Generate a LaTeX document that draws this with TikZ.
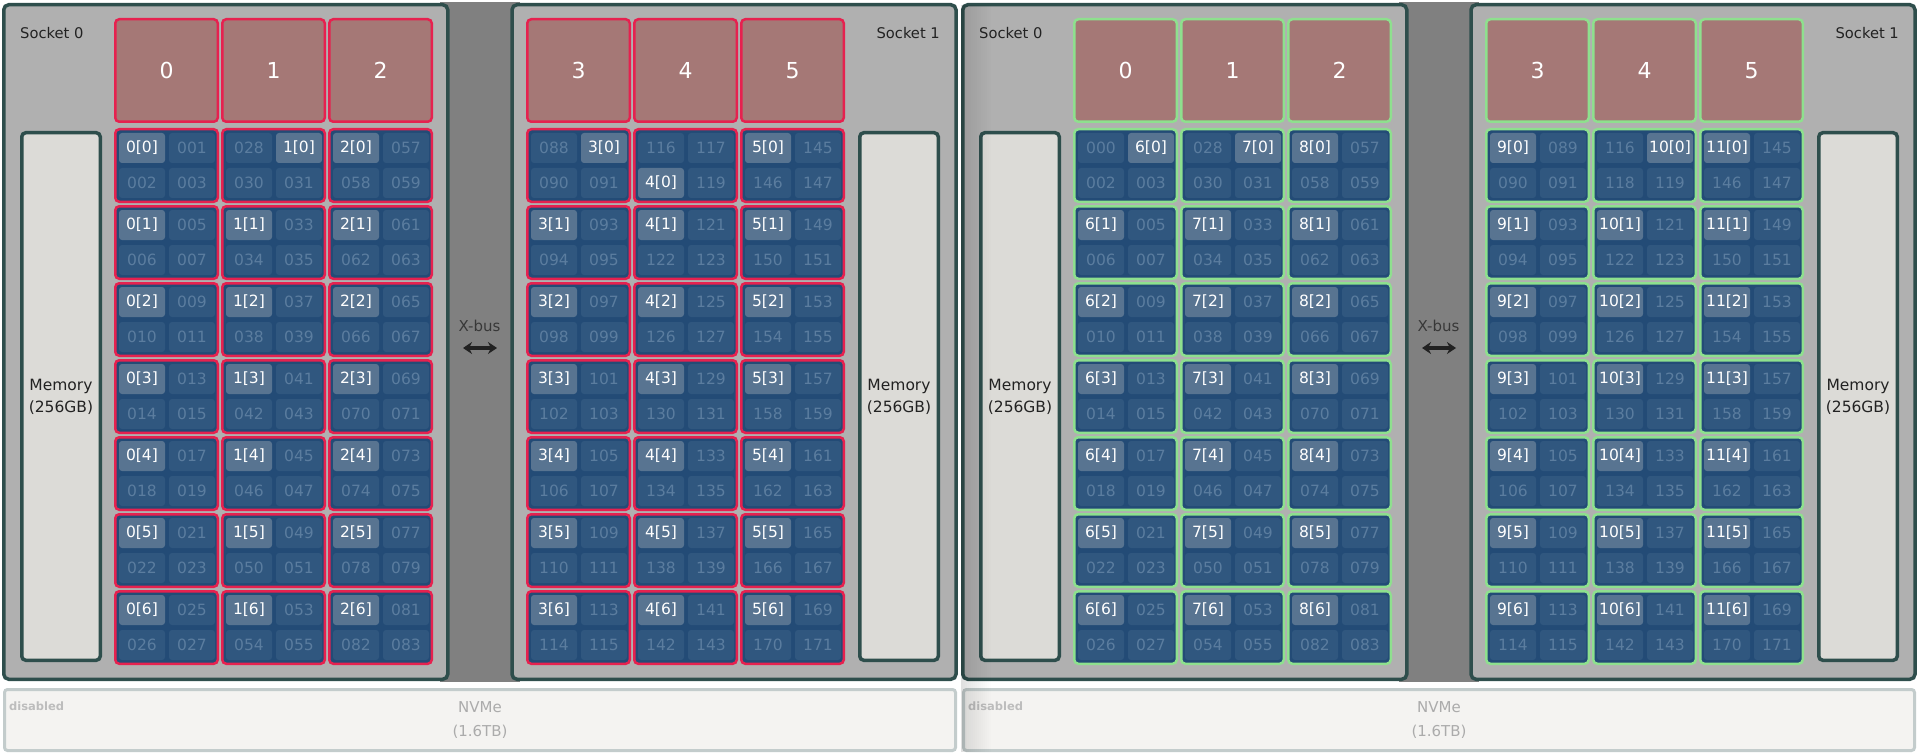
\documentclass[tikz,border=0pt]{standalone}
\usepackage{fontspec}
\setmainfont{DejaVu Sans}
\usetikzlibrary{arrows.meta}
\definecolor{panelgray}{HTML}{B0B0B0}
\definecolor{busgray}{HTML}{808080}
\definecolor{slate}{HTML}{2E4E4C}
\definecolor{corefill}{HTML}{A57876}
\definecolor{redb}{HTML}{E6214F}
\definecolor{greenb}{HTML}{8EE08E}
\definecolor{grpfill}{HTML}{234B76}
\definecolor{cellfill}{HTML}{30577F}
\definecolor{hifill}{HTML}{587491}
\definecolor{dimtext}{HTML}{5B7D9F}
\definecolor{memfill}{HTML}{DCDBD7}
\definecolor{nvfill}{HTML}{F4F3F1}
\definecolor{nvborder}{HTML}{C3CCCC}
\definecolor{nvtext}{HTML}{ABABAB}
\definecolor{distext}{HTML}{BDBDBD}
\definecolor{darktext}{HTML}{222222}
\newcommand\padnum[1]{\ifnum#1<10 00#1\else\ifnum#1<100 0#1\else#1\fi\fi}
\tikzset{
  socketbox/.style={draw=slate, line width=3.5pt, fill=panelgray, rounded corners=5pt,
    minimum width=444pt, minimum height=674.5pt, inner sep=0pt},
  membox/.style={draw=slate, line width=3.5pt, fill=memfill, rounded corners=4pt,
    minimum width=78.5pt, minimum height=527.5pt, inner sep=0pt, align=center,
    text=darktext, font=\fontsize{15.5}{22}\selectfont},
  corebox/.style={line width=2.5pt, fill=corefill, rounded corners=4pt,
    minimum width=102.5pt, minimum height=102.5pt, inner sep=0pt, text=white,
    font=\fontsize{22}{26}\selectfont},
  grpbox/.style={line width=2.5pt, fill=grpfill, rounded corners=4pt,
    minimum width=102.5pt, minimum height=72.5pt, inner sep=0pt},
  cellbox/.style={fill=cellfill, rounded corners=3pt, minimum width=46pt,
    minimum height=30pt, inner sep=0pt, text=dimtext, font=\fontsize{15.5}{17}\selectfont},
  hicellbox/.style={cellbox, fill=hifill, text=white},
  socklabel/.style={inner sep=0pt, text=darktext, font=\fontsize{14.7}{17}\selectfont},
  buslabel/.style={inner sep=0pt, text=darktext!90, font=\fontsize{15}{17}\selectfont},
  busarrow/.style={line width=3.5pt, draw=darktext, {Stealth[length=9pt,width=12pt]}-{Stealth[length=9pt,width=12pt]}},
  nvbox/.style={draw=nvborder, line width=3pt, fill=nvfill, rounded corners=3pt,
    minimum width=951pt, minimum height=61pt, inner sep=0pt, align=center,
    text=nvtext, font=\fontsize{15}{24}\selectfont},
  dislabel/.style={inner sep=0pt, text=distext, font=\bfseries\fontsize{11.5}{13}\selectfont},
}
\begin{document}
\begin{tikzpicture}[x=1pt, y=-1pt]
\useasboundingbox (0,0) rectangle (1918,754);
\fill[white] (0,0) rectangle (1918,754);
\foreach \h/\ox/\bc/\lo/\corelist in {0/0/redb/0/{0/0,1/1,2/0,3/1,4/2,5/0}, 1/959/greenb/6/{0/1,1/1,2/0,3/0,4/1,5/0}} {
  % x-bus gap
  \fill[busgray] (\ox+440,2) rectangle (\ox+520,682);
  % socket panels
  \node[socketbox] (s0-\h) at (\ox+225.75,342) {};
  \node[socketbox] (s1-\h) at (\ox+734,342) {};
  \node[socklabel, anchor=west] (sl0-\h) at (\ox+20,33) {Socket 0};
  \node[socklabel, anchor=east] (sl1-\h) at (\ox+940,33) {Socket 1};
  % memory
  \node[membox] (m0-\h) at (\ox+61,396.5) {Memory\\(256GB)};
  \node[membox] (m1-\h) at (\ox+899,396.5) {Memory\\(256GB)};
  % x-bus
  \node[buslabel] (bus-\h) at (\ox+479.5,326) {X-bus};
  \coordinate (bl-\h) at (\ox+463,348);
  \coordinate (br-\h) at (\ox+497,348);
  \draw[busarrow] (bl-\h) -- (br-\h);
  % nvme
  \node[nvbox] (nv-\h) at (\ox+480,720) {NVMe\\(1.6TB)};
  \node[dislabel, anchor=west] (dis-\h) at (\ox+9,706) {disabled};
  % cores
  \foreach \c/\hz in \corelist {
    \pgfmathsetmacro\gx{\ox + ((\c<3) ? (114+107*\c) : (526+107*(\c-3)))}
    \pgfmathtruncatemacro\lab{\lo+\c}
    \node[corebox, draw=\bc] (core-\h-\c) at (\gx+52.5,70.5) {\c};
    \foreach \r in {0,...,6} {
      \pgfmathsetmacro\gy{128+77*\r}
      \pgfmathtruncatemacro\hi{(\r==0) ? \hz : 0}
      \pgfmathtruncatemacro\base{28*\c+4*\r+((\c>2) ? 4 : 0)}
      \node[grpbox, draw=\bc] (grp-\h-\c-\r) at (\gx+52.5,\gy+37.5) {};
      \foreach \k in {0,...,3} {
        \pgfmathsetmacro\cx{\gx+28+50*mod(\k,2)}
        \pgfmathsetmacro\cy{\gy+20+35*floor(\k/2)}
        \pgfmathtruncatemacro\num{\base+\k}
        \ifnum\k=\hi
          \node[hicellbox] (cell-\h-\c-\r-\k) at (\cx,\cy) {\lab[\r]};
        \else
          \node[cellbox] (cell-\h-\c-\r-\k) at (\cx,\cy) {\padnum{\num}};
        \fi
      }
    }
  }
}
% soft shadow along the left edge of the right half
\foreach \i in {0,...,14} {
  \pgfmathsetmacro\op{0.12*(1-\i/15)}
  \fill[black, opacity=\op] (961+2*\i,5) rectangle (963+2*\i,752);
}
\end{tikzpicture}
\end{document}
